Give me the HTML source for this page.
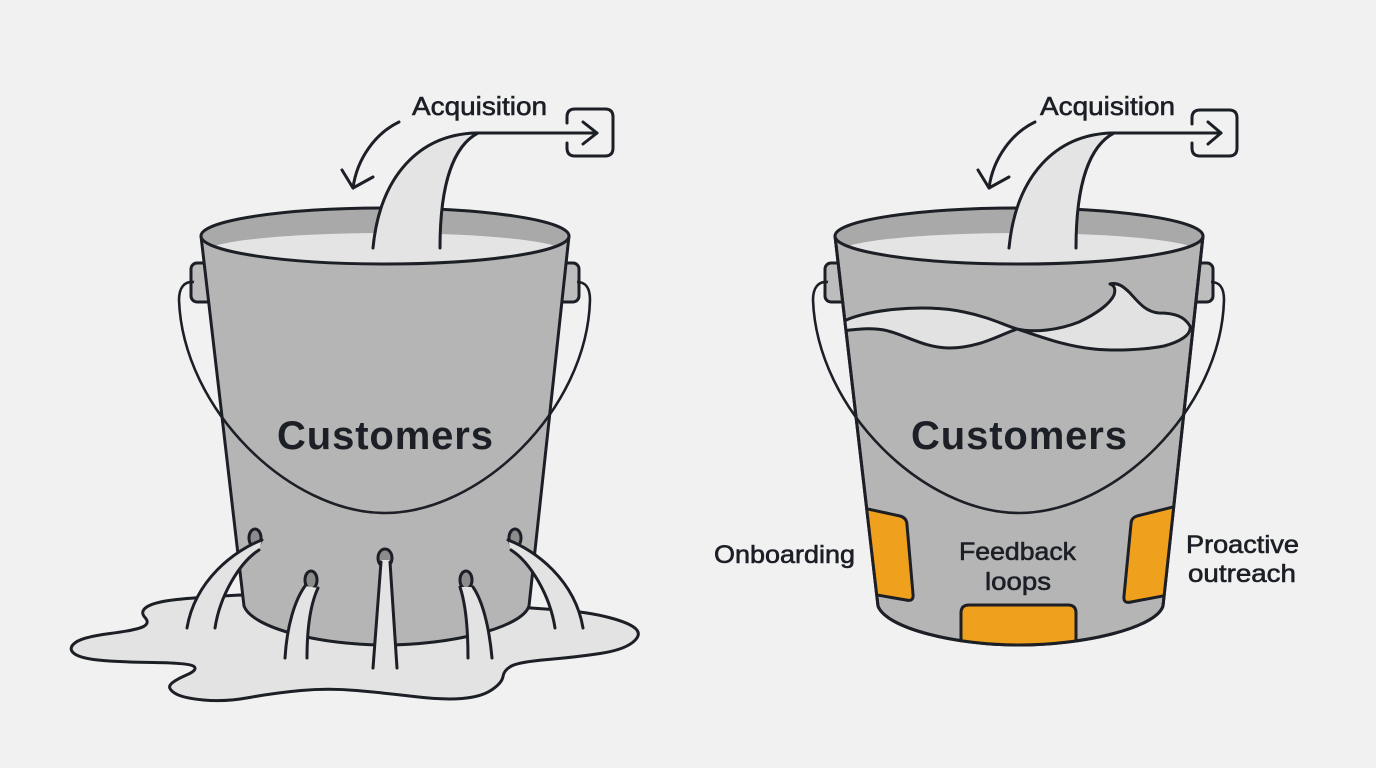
<!DOCTYPE html>
<html><head><meta charset="utf-8"><style>
html,body{margin:0;padding:0;background:#f1f1f1;}
svg{display:block;}
text{font-family:"Liberation Sans",Arial,sans-serif;fill:#1c1f26;}
</style></head><body>
<svg width="1376" height="768" viewBox="0 0 1376 768" xmlns="http://www.w3.org/2000/svg">
<defs>
  <clipPath id="rimclip"><ellipse cx="385" cy="236" rx="184" ry="28"/></clipPath>
  <clipPath id="bodyclip"><path d="M201,236 L244,606 C252,628 320,645 385,645 C450,645 522,628 529,606 L569,236 Z"/></clipPath>
  <g id="bucket">
    <rect x="191" y="263" width="22" height="39" rx="6" fill="#bdbdbd" stroke="#1c1f26" stroke-width="3"/>
    <rect x="557" y="263" width="22" height="39" rx="6" fill="#bdbdbd" stroke="#1c1f26" stroke-width="3"/>
    <path d="M201,236 L244,606 C252,628 320,645 385,645 C450,645 522,628 529,606 L569,236 Z" fill="#b5b5b5" stroke="#1c1f26" stroke-width="3" stroke-linejoin="round"/>
  </g>
  <g id="rim">
    <ellipse cx="385" cy="236" rx="184" ry="28" fill="#a9a9a9"/>
    <ellipse cx="385" cy="252" rx="180" ry="19" fill="#e4e4e4" clip-path="url(#rimclip)"/>
    <ellipse cx="385" cy="236" rx="184" ry="28" fill="none" stroke="#1c1f26" stroke-width="3"/>
  </g>
  <path id="handle" d="M194,282 C184,281 179,288 179,300 C183,410 290,513 385,513 C480,513 587,410 590,300 C590,288 586,282 577,282" fill="none" stroke="#1c1f26" stroke-width="2.6"/>
</defs>

<!-- ================= LEFT BUCKET ================= -->
<path d="M240,595 Q186,598 169,600.5 Q152,603 146,607.5 Q140,612 145,617.5 Q150,623 143.5,626.5 Q137,630 110,633.5 Q83,637 75.5,642.5 Q68,648 73.5,653 Q79,658 98,660 Q117,662 153.5,662.5 Q190,663 194,666.5 Q198,670 186.5,675 Q175,680 171,684 Q167,688 174.5,693 Q182,698 203.5,700 Q225,702 249.5,697.5 Q274,693 301,690.5 Q328,688 356.5,690.5 Q385,693 414,696.5 Q443,700 462,698.5 Q481,697 491.5,690 Q502,683 503,676.5 Q504,670 511.5,666 Q519,662 548,659.5 Q577,657 600,653.5 Q623,650 632.5,642.5 Q642,635 636,629 Q630,623 609,617.5 Q588,612 559.5,610 Q531,608 531,608 L385,600 Z" fill="#e3e3e3" stroke="#1c1f26" stroke-width="3" stroke-linejoin="round"/>

<use href="#bucket"/>
<use href="#rim"/>
<use href="#handle"/>

<path d="M475,133 C420,135 380,175 373,248 L440,248 C440,180 455,145 478,133 Z" fill="#e4e4e4"/>
<path d="M597,133 L475,133 C420,135 380,175 373,248" fill="none" stroke="#1c1f26" stroke-width="3" stroke-linecap="round"/>
<path d="M478,133 C455,145 440,180 440,248" fill="none" stroke="#1c1f26" stroke-width="3" stroke-linecap="round"/>
<path d="M583,122 L597,133 L583,144" fill="none" stroke="#1c1f26" stroke-width="3" stroke-linecap="round" stroke-linejoin="round"/>
<path d="M567,123 L567,117 Q567,109 575,109 L605,109 Q613,109 613,117 L613,148 Q613,156 605,156 L575,156 Q567,156 567,148 L567,143" fill="none" stroke="#1c1f26" stroke-width="3" stroke-linecap="round"/>
<path d="M399,122 C376,133 357,158 353,188" fill="none" stroke="#1c1f26" stroke-width="3" stroke-linecap="round"/>
<path d="M342,170 L353,188 L373,177" fill="none" stroke="#1c1f26" stroke-width="3" stroke-linecap="round" stroke-linejoin="round"/>

<g fill="#8c8c8c" stroke="#1c1f26" stroke-width="3">
  <ellipse cx="255" cy="538" rx="6" ry="9"/>
  <ellipse cx="515" cy="538" rx="6" ry="9"/>
  <ellipse cx="385" cy="558" rx="7" ry="9"/>
  <ellipse cx="311" cy="580" rx="6" ry="9"/>
  <ellipse cx="466" cy="580" rx="6" ry="9"/>
</g>
<g fill="#e3e3e3">
  <path d="M262,540 C235,550 195,580 187,628 L215,628 C220,595 240,562 259,550 Z"/>
  <path d="M508,540 C535,550 575,580 583,628 L555,628 C550,595 530,562 511,550 Z"/>
  <path d="M381,560 L373,668 L397,668 L390,560 Z"/>
  <path d="M305,586 C295,600 287,625 285,658 L307,658 C307,630 310,605 318,588 Z"/>
  <path d="M460,587 C466,605 468,630 468,658 L492,658 C489,625 482,600 473,587 Z"/>
</g>
<g fill="none" stroke="#1c1f26" stroke-width="3" stroke-linecap="round">
  <path d="M262,540 C235,550 195,580 187,628"/>
  <path d="M259,550 C240,562 220,595 215,628"/>
  <path d="M508,540 C535,550 575,580 583,628"/>
  <path d="M511,550 C530,562 550,595 555,628"/>
  <path d="M381,562 L373,668"/>
  <path d="M390,562 L397,668"/>
  <path d="M305,586 C295,600 287,625 285,658"/>
  <path d="M318,588 C310,605 307,630 307,658"/>
  <path d="M460,587 C466,605 468,630 468,658"/>
  <path d="M473,587 C482,600 489,625 492,658"/>
</g>

<text x="412" y="115" font-size="26" textLength="135" lengthAdjust="spacingAndGlyphs" stroke="#1c1f26" stroke-width="0.6">Acquisition</text>
<text x="277" y="449" font-size="40" font-weight="bold" textLength="216" lengthAdjust="spacing">Customers</text>

<!-- ================= RIGHT BUCKET ================= -->
<g transform="translate(634,0)">
  <use href="#bucket"/>
  <g clip-path="url(#bodyclip)">
    <path d="M205,324 C225,310 290,303 330,312 C355,317 370,325 383,329 C400,333 425,330 445,322 C462,314 476,304 480,295 C482,289 480,285 476,284 C484,282 490,287 496,293 C505,303 512,312 525,313 C540,313 550,316 556,326 C558,335 545,342 530,346 C510,350 480,351 460,349 C430,346 405,336 383,329 C365,335 345,348 315,348 C290,348 270,334 250,330 C235,327 220,330 205,331 Z" fill="#e2e2e2" stroke="#1c1f26" stroke-width="3" stroke-linejoin="round"/>
    <g fill="#efa11e" stroke="#1c1f26" stroke-width="3" stroke-linejoin="round">
      <path d="M215,505 L266,516 Q273,518 273,525 L279,594 Q280,602 272,600 L220,591 Z"/>
      <path d="M555,503 L503,516 Q497,518 497,524 L490,596 Q489,604 497,602 L555,591 Z"/>
      <path d="M327,660 L327,613 Q327,605 335,605 L434,605 Q442,605 442,613 L442,660 Z"/>
    </g>
  </g>
  <path d="M201,236 L244,606 C252,628 320,645 385,645 C450,645 522,628 529,606 L569,236" fill="none" stroke="#1c1f26" stroke-width="3" stroke-linejoin="round"/>
  <use href="#rim"/>
  <use href="#handle"/>
</g>

<path d="M1111,133 C1056,135 1016,175 1009,248 L1076,248 C1076,180 1091,145 1114,133 Z" fill="#e4e4e4"/>
<path d="M1221,133 L1111,133 C1056,135 1016,175 1009,248" fill="none" stroke="#1c1f26" stroke-width="3" stroke-linecap="round"/>
<path d="M1114,133 C1091,145 1076,180 1076,248" fill="none" stroke="#1c1f26" stroke-width="3" stroke-linecap="round"/>
<path d="M1208,122 L1221,133 L1208,144" fill="none" stroke="#1c1f26" stroke-width="3" stroke-linecap="round" stroke-linejoin="round"/>
<path d="M1192,124 L1192,118 Q1192,110 1200,110 L1229,110 Q1237,110 1237,118 L1237,148 Q1237,156 1229,156 L1200,156 Q1192,156 1192,148 L1192,143" fill="none" stroke="#1c1f26" stroke-width="3" stroke-linecap="round"/>
<path d="M1035,122 C1012,133 993,158 989,188" fill="none" stroke="#1c1f26" stroke-width="3" stroke-linecap="round"/>
<path d="M978,170 L989,188 L1009,177" fill="none" stroke="#1c1f26" stroke-width="3" stroke-linecap="round" stroke-linejoin="round"/>

<text x="1040" y="115" font-size="26" textLength="135" lengthAdjust="spacingAndGlyphs" stroke="#1c1f26" stroke-width="0.6">Acquisition</text>
<text x="911" y="449" font-size="40" font-weight="bold" textLength="216" lengthAdjust="spacing">Customers</text>

<g font-size="25" stroke="#1c1f26" stroke-width="0.6">
  <text x="714" y="563" textLength="141" lengthAdjust="spacingAndGlyphs">Onboarding</text>
  <text x="959" y="560" textLength="117" lengthAdjust="spacingAndGlyphs">Feedback</text>
  <text x="985" y="590" textLength="66" lengthAdjust="spacingAndGlyphs">loops</text>
  <text x="1186" y="553" textLength="113" lengthAdjust="spacingAndGlyphs">Proactive</text>
  <text x="1188" y="582" textLength="108" lengthAdjust="spacingAndGlyphs">outreach</text>
</g>
</svg>
</body></html>
